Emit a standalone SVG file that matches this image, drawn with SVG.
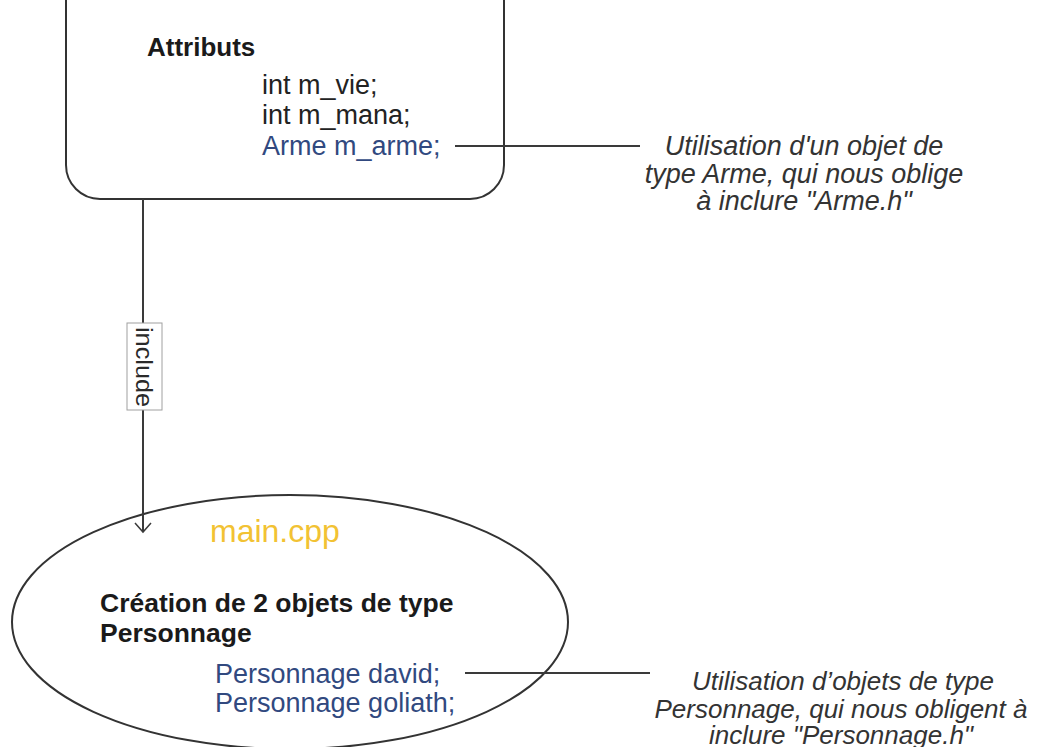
<svg xmlns="http://www.w3.org/2000/svg" width="1050" height="747" viewBox="0 0 1050 747">
<defs>
<style>
text{font-family:"Liberation Sans",Arial,sans-serif;}
.code{font-size:27px;fill:#222222;}
.blue{fill:#31497f;}
.bold{font-weight:bold;font-size:26px;fill:#1a1a1a;}
.note{font-style:italic;font-size:26px;fill:#333333;text-anchor:middle;}
.edge{stroke:#3a3a3a;stroke-width:2;fill:none;}
</style>
<marker id="arr" markerWidth="20" markerHeight="20" refX="10" refY="10" orient="auto" markerUnits="userSpaceOnUse">
<path d="M1,2 L10,10 L1,18" fill="none" stroke="#3a3a3a" stroke-width="1.5"/>
</marker>
</defs>
<rect width="1050" height="747" fill="#ffffff"/>
<g id="personnage-h">
<rect x="66" y="-40" width="438" height="239" rx="34" ry="34" fill="#ffffff" stroke="#333" stroke-width="2"/>
<text class="bold" x="147" y="56">Attributs</text>
<text class="code" x="262" y="94">int m_vie;</text>
<text class="code" x="262" y="124">int m_mana;</text>
<text class="code blue" x="262" y="155">Arme m_arme;</text>
</g>
<g id="main-cpp">
<ellipse cx="290" cy="622" rx="278" ry="127" fill="#ffffff" stroke="#333" stroke-width="2"/>
<text x="210" y="542" style="font-size:32px;fill:#f2c233;">main.cpp</text>
<text class="bold" x="100" y="612" style="font-size:26.5px">Création de 2 objets de type</text>
<text class="bold" x="100" y="642" style="font-size:26.5px">Personnage</text>
<text class="code blue" x="215" y="683">Personnage david;</text>
<text class="code blue" x="215" y="712">Personnage goliath;</text>
</g>
<g id="connectors">
<line class="edge" x1="143" y1="199" x2="143" y2="532" marker-end="url(#arr)"/>
<line class="edge" x1="455" y1="146" x2="640" y2="146"/>
<line class="edge" x1="465" y1="673" x2="650" y2="673"/>
<g id="include-label">
<rect x="127" y="323" width="35" height="87" fill="#ffffff" stroke="#a0a0a0" stroke-width="1"/>
<text transform="translate(136,327) rotate(90)" style="font-size:24px;fill:#2a2a2a;" textLength="80" lengthAdjust="spacingAndGlyphs">include</text>
</g>
</g>
<g id="note-arme">
<text class="note" x="804" y="155" style="font-size:27px">Utilisation d'un objet de</text>
<text class="note" x="804" y="183" style="font-size:27px">type Arme, qui nous oblige</text>
<text class="note" x="804" y="210" style="font-size:27px">à inclure "Arme.h"</text>
</g>
<g id="note-personnage">
<text class="note" x="843" y="690">Utilisation d’objets de type</text>
<text class="note" x="841" y="718">Personnage, qui nous obligent à</text>
<text class="note" x="841" y="744">inclure "Personnage.h"</text>
</g>
</svg>
